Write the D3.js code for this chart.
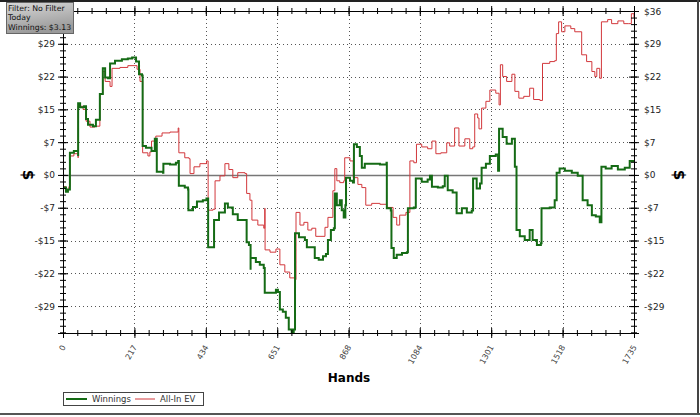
<!DOCTYPE html>
<html>
<head>
<meta charset="utf-8">
<script src="https://cdn.jsdelivr.net/npm/d3@7"></script>
<style>
  body { margin: 0; background: #fff; }
  text { font-family: "DejaVu Sans", Verdana, sans-serif; }
</style>
</head>
<body>
<svg id="chart" width="700" height="417"></svg>
<script>
// ----------

const winHands = [0, 9, 15, 21, 33, 46, 46, 52, 64, 70, 76, 91, 100, 112, 112, 121, 128, 137, 143, 158, 179, 197, 210, 222, 231, 240, 242, 252, 264, 269, 279, 285, 285, 304, 305, 325, 343, 350, 352, 370, 380, 381, 395, 407, 425, 436, 441, 456, 459, 474, 492, 501, 516, 531, 550, 558, 565, 570, 570, 586, 598, 610, 613, 629, 647, 653, 659, 668, 677, 686, 695, 701, 705, 717, 735, 741, 759, 765, 777, 790, 799, 805, 814, 823, 826, 832, 841, 847, 853, 858, 860, 872, 881, 884, 893, 902, 908, 917, 938, 963, 983, 984, 996, 998, 1005, 1014, 1030, 1045, 1048, 1066, 1072, 1090, 1108, 1115, 1121, 1139, 1154, 1160, 1169, 1184, 1196, 1212, 1227, 1242, 1246, 1257, 1267, 1272, 1285, 1297, 1315, 1322, 1325, 1336, 1348, 1364, 1373, 1378, 1388, 1403, 1418, 1427, 1440, 1452, 1454, 1479, 1494, 1500, 1509, 1525, 1546, 1564, 1579, 1594, 1607, 1619, 1631, 1636, 1649, 1667, 1686, 1707, 1722, 1735];
const winValues = [-2.8, -3.7, -3.2, 4.9, 5.3, 4.2, 15.9, 15.0, 15.2, 12.4, 11.1, 10.8, 12.2, 12.4, 17.9, 23.6, 21.6, 21.4, 24.7, 25.3, 25.6, 25.8, 26.0, 25.1, 22.3, 22.0, 6.4, 6.0, 6.0, 5.3, 8.0, 8.0, 0.7, 0.5, 2.5, 2.3, 2.7, 3.1, -2.4, -2.8, -3.2, -7.8, -7.1, -5.9, -5.6, -5.2, -16.0, -16.0, -10.0, -8.3, -6.3, -7.2, -8.7, -10.0, -10.0, -14.9, -15.5, -21.0, -18.4, -19.3, -19.9, -20.6, -26.1, -26.1, -25.4, -25.9, -29.8, -30.3, -31.6, -34.2, -34.9, -34.2, -12.9, -13.8, -14.4, -16.0, -16.0, -18.4, -18.8, -18.0, -17.5, -14.4, -12.2, -11.8, -4.1, -6.7, -5.6, -7.8, -9.4, -6.7, -0.6, -1.3, -1.7, 6.8, 6.2, 4.2, 1.6, 2.5, 2.5, 2.3, 2.7, -7.4, -7.9, -16.2, -18.4, -17.7, -17.3, -17.1, -7.4, -7.2, -0.8, -1.5, -1.0, -0.2, -2.6, -2.8, -2.5, -0.2, -3.4, -3.9, -8.5, -7.4, -8.3, -7.9, -0.8, -3.0, -1.9, 1.6, 2.5, 4.2, 4.5, 0.9, 10.2, 8.4, 6.9, 8.0, 1.8, -12.2, -13.6, -14.4, -12.2, -14.4, -15.5, -15.1, -7.4, -7.2, -5.6, 0.5, 1.4, 0.9, 0.5, -0.2, -5.6, -6.7, -8.9, -9.2, -10.5, 1.8, 1.4, 2.0, 1.2, 1.6, 3.1, 3.13];

const evHands = [0, 9, 18, 21, 33, 46, 46, 61, 70, 82, 97, 112, 112, 121, 128, 143, 149, 173, 197, 216, 225, 234, 242, 258, 264, 269, 282, 301, 325, 350, 352, 370, 383, 386, 398, 416, 436, 441, 456, 462, 477, 492, 504, 516, 531, 553, 558, 568, 574, 592, 610, 613, 614, 629, 647, 659, 674, 689, 705, 708, 720, 732, 744, 756, 768, 781, 796, 805, 820, 826, 832, 841, 853, 856, 872, 882, 896, 908, 920, 938, 963, 984, 1003, 1014, 1023, 1042, 1054, 1066, 1074, 1090, 1108, 1121, 1133, 1148, 1166, 1175, 1190, 1203, 1221, 1236, 1245, 1251, 1260, 1264, 1272, 1285, 1297, 1315, 1325, 1329, 1336, 1348, 1364, 1373, 1385, 1400, 1418, 1430, 1449, 1457, 1479, 1494, 1499, 1506, 1515, 1525, 1543, 1555, 1576, 1591, 1607, 1616, 1622, 1631, 1636, 1655, 1667, 1686, 1704, 1719, 1727, 1735];
const evValues = [-2.6, -3.4, -2.6, 4.2, 4.7, 3.8, 15.2, 14.5, 11.9, 10.6, 10.8, 12.4, 17.9, 22.9, 20.7, 19.6, 23.6, 23.8, 24.2, 24.2, 23.4, 20.7, 4.9, 4.2, 5.1, 7.5, 8.6, 9.3, 9.5, 10.4, 4.9, 3.8, 3.6, 0.3, 1.8, 2.5, 3.1, -7.8, -7.6, -1.3, -0.2, 2.5, 1.2, -0.6, 0.5, 0.3, -4.1, -5.6, -10.0, -11.1, -11.8, -7.4, -16.6, -17.1, -16.4, -19.9, -21.5, -22.8, -23.2, -8.3, -11.1, -10.5, -12.2, -11.8, -13.6, -13.6, -11.6, -9.4, -3.5, 1.4, -1.3, -1.7, -1.3, 3.8, 3.1, -0.6, -2.1, -2.8, -6.7, -6.3, -6.5, -7.2, -9.4, -11.1, -8.9, -8.3, 3.1, 2.7, 6.8, 6.2, 5.8, 7.5, 4.7, 4.9, 7.1, 6.4, 10.4, 6.4, 8.0, 5.8, 6.2, 13.5, 12.6, 10.2, 14.8, 16.3, 18.8, 18.1, 15.5, 24.4, 21.8, 20.7, 22.3, 18.5, 17.0, 17.4, 19.2, 16.7, 16.5, 24.7, 25.1, 25.3, 31.3, 33.9, 31.7, 33.0, 32.4, 31.7, 26.6, 25.1, 22.9, 21.8, 23.6, 21.4, 33.9, 34.4, 33.5, 34.1, 33.5, 33.5, 35.7, 34.8];

const xTickValues = [0, 217, 434, 651, 868, 1084, 1301, 1518, 1735];
const yTickValues = [-29.04, -21.78, -14.52, -7.26, 0, 7.26, 14.52, 21.78, 29.04, 36.3];
const yTickLabels = ["-$29", "-$22", "-$15", "-$7", "$0", "$7", "$15", "$22", "$29", "$36"];

const seriesNames = ["Winnings", "All-In EV"];
const infoLines = ["Filter: No Filter", "Today", "Winnings: $3.13"];

const GREEN = "#156b15";
const RED = "#d2383c";

// ----------

const svg = d3.select("#chart");
const plotLeft = 63, plotRight = 634, plotTop = 11, plotBottom = 333;
const Y_MIN = -35.0, Y_MAX = 36.3;

const x = d3.scaleLinear().domain([0, 1735]).range([plotLeft, plotRight]);
const y = d3.scaleLinear().domain([Y_MIN, Y_MAX]).range([plotBottom, plotTop]);

// 5 minor steps per major step
const xMinor = d3.range(0, 41).map((i) => (i * 1735) / 40);
const yMinor = d3.range(0, 50).map((i) => Y_MAX - i * 1.452).filter((v) => v >= Y_MIN);

// outer frame
svg.append("line").attr("x1", 0).attr("x2", 700).attr("y1", 1).attr("y2", 1).attr("stroke", "#222").attr("stroke-width", 2);
svg.append("line").attr("x1", 698).attr("x2", 698).attr("y1", 0).attr("y2", 415).attr("stroke", "#444").attr("stroke-width", 2);
svg.append("line").attr("x1", 0).attr("x2", 700).attr("y1", 414).attr("y2", 414).attr("stroke", "#555").attr("stroke-width", 2);

// grid
const grid = svg.append("g").attr("stroke", "#555").attr("stroke-dasharray", "1,3");
grid.selectAll(".gx").data(xTickValues.slice(1, -1)).enter().append("line")
  .attr("x1", (d) => Math.round(x(d)) + 0.5).attr("x2", (d) => Math.round(x(d)) + 0.5)
  .attr("y1", plotTop).attr("y2", plotBottom);
grid.selectAll(".gy").data(yTickValues.filter((d) => d !== 0 && d < 36)).enter().append("line")
  .attr("y1", (d) => Math.round(y(d)) + 0.5).attr("y2", (d) => Math.round(y(d)) + 0.5)
  .attr("x1", plotLeft).attr("x2", plotRight);

// zero line
svg.append("line").attr("x1", plotLeft).attr("x2", plotRight)
  .attr("y1", Math.round(y(0)) + 0.5).attr("y2", Math.round(y(0)) + 0.5)
  .attr("stroke", "#777").attr("stroke-width", 1.5);

// series (stepped, one step per recorded change)
const winData = winHands.map((h, i) => [h, winValues[i]]);
const evData = evHands.map((h, i) => [h, evValues[i]]);
const line = d3.line().x((d) => x(d[0])).y((d) => y(d[1])).curve(d3.curveStepAfter);

svg.append("path").datum(evData).attr("d", line)
  .attr("fill", "none").attr("stroke", RED).attr("stroke-width", 1);
svg.append("path").datum(winData).attr("d", line)
  .attr("fill", "none").attr("stroke", GREEN).attr("stroke-width", 2);

// axes: minor + major ticks, crossing the frame lines
function tickPair(axisA, axisB, scale, transform, minor, major) {
  [axisA, axisB].forEach(function (mk) {
    svg.append("g").attr("transform", transform)
      .call(mk(scale).tickValues(minor).tickSize(3).tickFormat(""))
      .call((g) => g.select(".domain").remove());
    svg.append("g").attr("transform", transform)
      .call(mk(scale).tickValues(major).tickSize(5).tickFormat(""))
      .call((g) => g.select(".domain").attr("stroke", "#000"));
  });
}
tickPair(d3.axisLeft, d3.axisRight, y, `translate(${plotLeft},0)`, yMinor, yTickValues);
tickPair(d3.axisLeft, d3.axisRight, y, `translate(${plotRight},0)`, yMinor, yTickValues);
tickPair(d3.axisBottom, d3.axisTop, x, `translate(0,${plotBottom})`, xMinor, xTickValues);
tickPair(d3.axisBottom, d3.axisTop, x, `translate(0,${plotTop})`, xMinor, xTickValues);

// y labels (the left top label sits under the info box, so it is not drawn)
const yLabels = svg.append("g").attr("font-size", 9).attr("fill", "#222");
yLabels.selectAll(".yl").data(yTickValues.slice(0, -1)).enter().append("text")
  .attr("x", plotLeft - 8).attr("y", (d) => y(d) + 3.5).attr("text-anchor", "end")
  .text((d, i) => yTickLabels[i]);
yLabels.selectAll(".yr").data(yTickValues).enter().append("text")
  .attr("x", plotRight + 10).attr("y", (d) => y(d) + 3.5).attr("text-anchor", "start")
  .text((d, i) => yTickLabels[i]);

// x labels, rotated
svg.append("g").attr("font-size", 8).attr("fill", "#444")
  .selectAll("text").data(xTickValues).enter().append("text")
  .attr("text-anchor", "end")
  .attr("transform", (d) => `translate(${x(d) + 3},${plotBottom + 14}) rotate(-60)`)
  .text((d) => d);

// axis titles
svg.append("text").attr("x", 349).attr("y", 382).attr("text-anchor", "middle")
  .attr("font-size", 12).attr("font-weight", "bold").text("Hands");
svg.append("text").attr("transform", `translate(23,${y(0)}) rotate(90)`).attr("text-anchor", "middle")
  .attr("font-size", 15).attr("font-weight", "bold").text("$");
svg.append("text").attr("transform", `translate(674,${y(0)}) rotate(90)`).attr("text-anchor", "middle")
  .attr("font-size", 15).attr("font-weight", "bold").text("$");

// legend
const lg = svg.append("g").attr("transform", "translate(63,392)");
lg.append("rect").attr("x", 0.5).attr("y", 0.5).attr("width", 140).attr("height", 13)
  .attr("fill", "#fff").attr("stroke", "#444");
lg.append("line").attr("x1", 3).attr("x2", 24).attr("y1", 7).attr("y2", 7).attr("stroke", GREEN).attr("stroke-width", 2);
lg.append("text").attr("x", 29).attr("y", 10).attr("font-size", 8.5).attr("fill", "#333").text(seriesNames[0]);
lg.append("line").attr("x1", 72).attr("x2", 92).attr("y1", 7).attr("y2", 7).attr("stroke", RED).attr("stroke-width", 1);
lg.append("text").attr("x", 97).attr("y", 10).attr("font-size", 8.5).attr("fill", "#333").text(seriesNames[1]);

// info box
const grad = svg.append("defs").append("linearGradient").attr("id", "boxgrad")
  .attr("x1", 0).attr("y1", 0).attr("x2", 0.3).attr("y2", 1);
grad.append("stop").attr("offset", "0%").attr("stop-color", "#d8d8d8");
grad.append("stop").attr("offset", "100%").attr("stop-color", "#9a9a9a");
svg.append("rect").attr("x", 6.5).attr("y", 2.5).attr("width", 67).attr("height", 31)
  .attr("fill", "url(#boxgrad)").attr("stroke", "#666");
svg.append("g").attr("font-size", 7.8).attr("fill", "#111")
  .selectAll("text").data(infoLines).enter().append("text")
  .attr("x", 8).attr("y", (d, i) => 10.5 + i * 9.7).text((d) => d);
</script>
</body>
</html>
